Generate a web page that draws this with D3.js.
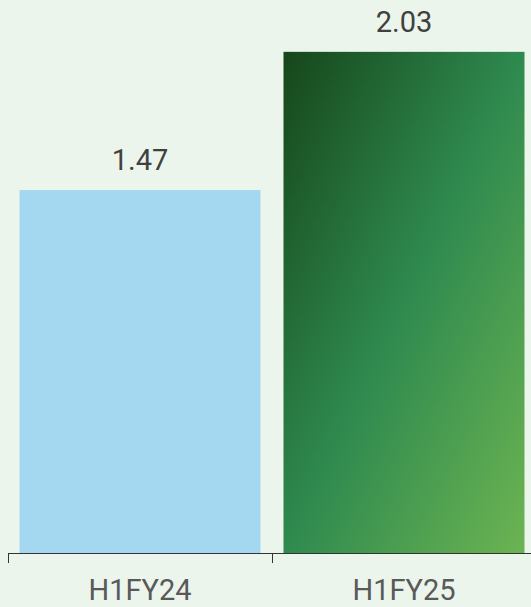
<!DOCTYPE html>
<html>
<head>
<meta charset="utf-8">
<script src="https://cdn.jsdelivr.net/npm/d3@7"></script>
<style>
  html, body { margin: 0; padding: 0; background: #ebf5eb; }
  svg { display: block; }
</style>
</head>
<body>
<svg id="chart" width="531" height="607"></svg>
<script>
const categories = ["H1FY24", "H1FY25"];
const values = [1.47, 2.03];
const valueLabels = ["1.47", "2.03"];

const W = 531, H = 607;
const svg = d3.select("#chart");
svg.append("rect").attr("width", W).attr("height", H).attr("fill", "#ebf5eb");

const defs = svg.append("defs");
const grad = defs.append("linearGradient")
  .attr("id", "greenGrad")
  .attr("x1", 0).attr("y1", 0).attr("x2", 1).attr("y2", 1);
grad.append("stop").attr("offset", "0%").attr("stop-color", "#16461b");
grad.append("stop").attr("offset", "50%").attr("stop-color", "#2f8a4f");
grad.append("stop").attr("offset", "100%").attr("stop-color", "#6cb452");

const x = d3.scaleBand()
  .domain(categories)
  .range([8, 536])
  .paddingInner(0.0871)
  .paddingOuter(0.0436);

const baseline = 553;
const y = d3.scaleLinear().domain([0, 2.24]).range([baseline, 0]);

const fills = ["#a4d8f0", "url(#greenGrad)"];

svg.selectAll("rect.bar")
  .data(categories)
  .join("rect")
  .attr("class", "bar")
  .attr("x", d => x(d))
  .attr("width", x.bandwidth())
  .attr("y", (d, i) => y(values[i]))
  .attr("height", (d, i) => y(0) - y(values[i]))
  .attr("fill", (d, i) => fills[i]);

svg.selectAll("text.val")
  .data(categories)
  .join("text")
  .attr("class", "val")
  .attr("x", d => x(d) + x.bandwidth() / 2)
  .attr("y", (d, i) => y(values[i]) - 20)
  .attr("text-anchor", "middle")
  .attr("font-family", "Roboto, sans-serif")
  .attr("font-size", 29)
  .attr("fill", "#404040")
  .text((d, i) => valueLabels[i]);

// category axis with ticks at band boundaries
const step = x.step();
const start = x.range()[0];
const axis = svg.append("g");
axis.append("line")
  .attr("x1", start).attr("x2", W)
  .attr("y1", y(0) + 0.5).attr("y2", y(0) + 0.5)
  .attr("stroke", "#333").attr("stroke-width", 1);
const tickPos = categories.map((d, i) => start + i * step);
axis.selectAll("line.tick")
  .data(tickPos)
  .join("line")
  .attr("class", "tick")
  .attr("x1", d => Math.round(d) + 0.5).attr("x2", d => Math.round(d) + 0.5)
  .attr("y1", y(0)).attr("y2", y(0) + 10)
  .attr("stroke", "#333").attr("stroke-width", 1);

axis.selectAll("text.cat")
  .data(categories)
  .join("text")
  .attr("class", "cat")
  .attr("x", d => x(d) + x.bandwidth() / 2)
  .attr("y", 600)
  .attr("text-anchor", "middle")
  .attr("font-family", "Roboto, sans-serif")
  .attr("font-size", 29)
  .attr("fill", "#595959")
  .text(d => d);
</script>
</body>
</html>
